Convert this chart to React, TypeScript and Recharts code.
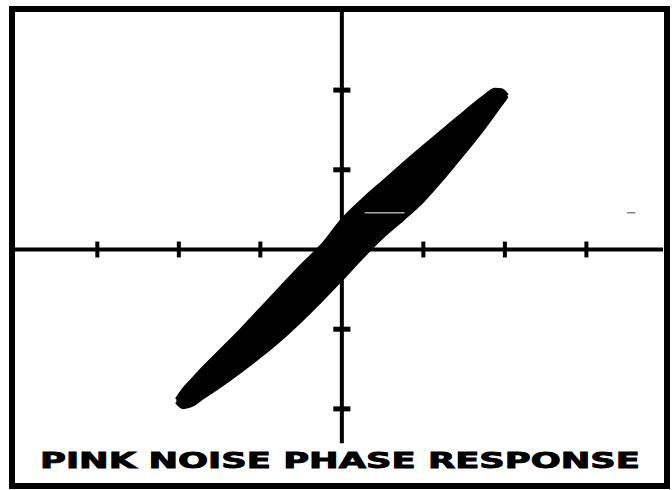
import { ComposedChart, Area, XAxis, YAxis, ReferenceLine } from "recharts"

// scope trace (x in horizontal divisions, y in vertical divisions)
const traceX = [-2.03, -1.95, -1.85, -1.7, -1.5, -1.25, -1.0, -0.75, -0.5, -0.25, 0, 0.25, 0.5, 0.75, 1.0, 1.25, 1.5, 1.75, 1.88, 1.96, 2.03]
const traceHigh = [-1.866, -1.748, -1.637, -1.472, -1.267, -1.009, -0.737, -0.465, -0.194, 0.059, 0.38, 0.631, 0.857, 1.083, 1.302, 1.516, 1.729, 1.936, 2.018, 2.011, 1.949]
const traceLow = [-1.928, -1.991, -1.969, -1.867, -1.73, -1.545, -1.349, -1.138, -0.903, -0.65, -0.384, -0.11, 0.147, 0.368, 0.602, 0.89, 1.199, 1.521, 1.701, 1.813, 1.911]

const xTicks = [-3, -2, -1, 1, 2, 3]
const yTicks = [-2, -1, 1, 2]

const title = "PINK NOISE PHASE RESPONSE"

const data = traceX.map((x, i) => ({ x, band: [traceLow[i], traceHigh[i]] }))

export default function App() {
  return (
    <div style={{ position: "absolute", left: 0, top: 0, width: 672, height: 490, background: "#fff" }}>
      <div
        style={{
          position: "absolute",
          left: 9,
          top: 6,
          width: 661,
          height: 483,
          border: "6px solid #000",
          boxSizing: "border-box",
        }}
      />
      <ComposedChart
        width={672}
        height={490}
        data={data}
        margin={{ top: 12, right: 9, bottom: 7, left: 15 }}
        style={{ position: "absolute", left: 0, top: 0 }}
      >
        <XAxis type="number" dataKey="x" domain={[-4.01, 3.94]} hide allowDataOverflow />
        <YAxis type="number" domain={[-2.93, 2.98]} hide allowDataOverflow />
        <ReferenceLine y={0} stroke="#000" strokeWidth={4} />
        <ReferenceLine
          segment={[{ x: 0, y: 2.98 }, { x: 0, y: -2.43 }]}
          stroke="#000"
          strokeWidth={4}
        />
        {xTicks.map((t) => (
          <ReferenceLine
            key={"xt" + t}
            segment={[{ x: t, y: -0.1 }, { x: t, y: 0.1 }]}
            stroke="#000"
            strokeWidth={4}
          />
        ))}
        {yTicks.map((t) => (
          <ReferenceLine
            key={"yt" + t}
            segment={[{ x: -0.105, y: t }, { x: 0.105, y: t }]}
            stroke="#000"
            strokeWidth={5}
          />
        ))}
        <Area
          type="monotone"
          dataKey="band"
          stroke="#000"
          strokeWidth={2}
          strokeLinecap="round"
          strokeLinejoin="round"
          fill="#000"
          fillOpacity={1}
          isAnimationActive={false}
          dot={false}
          activeDot={false}
        />
        {/* scan streak across the trace */}
        <ReferenceLine
          segment={[{ x: 0.28, y: 0.46 }, { x: 0.77, y: 0.46 }]}
          stroke="#fff"
          strokeWidth={1}
        />
        <ReferenceLine
          segment={[{ x: 3.5, y: 0.46 }, { x: 3.6, y: 0.46 }]}
          stroke="#444"
          strokeWidth={1}
        />
      </ComposedChart>
      <svg
        width={672}
        height={490}
        style={{ position: "absolute", left: 0, top: 0, pointerEvents: "none" }}
      >
        <text
          x={40}
          y={468}
          textLength={600}
          lengthAdjust="spacingAndGlyphs"
          fontFamily="DejaVu Sans"
          fontWeight="bold"
          fontSize={22}
          fill="#000"
          stroke="#000"
          strokeWidth={0.9}
        >
          {title}
        </text>
      </svg>
    </div>
  )
}
